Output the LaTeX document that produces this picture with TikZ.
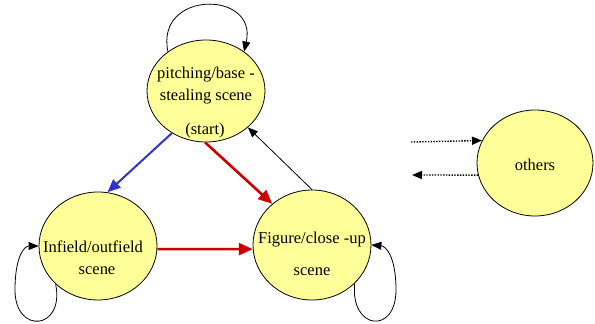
\documentclass[tikz,border=0pt]{standalone}
\usepackage{fontspec}
\setmainfont{Liberation Serif}
\usetikzlibrary{shapes.geometric,arrows.meta}
\definecolor{nodefill}{RGB}{255,255,153}
\definecolor{edgeblue}{RGB}{51,51,204}
\definecolor{edgered}{RGB}{204,0,0}
\tikzset{
  state/.style={ellipse,draw=black,fill=nodefill,line width=0.8pt,inner sep=0pt},
  lbl/.style={font=\rmfamily\fontsize{16.5}{19}\selectfont,inner sep=0pt,anchor=center},
  thinarrow/.style={line width=0.8pt,-{Triangle[length=10pt,width=8pt]}},
  bluearrow/.style={edgeblue,line width=2pt,-{Triangle[length=13pt,width=11pt]}},
  redarrow/.style={edgered,line width=2.6pt,-{Triangle[length=14pt,width=12pt]}},
  dotarrow/.style={line width=1.4pt,dash pattern=on 1.4pt off 1.4pt,-{Triangle[length=10pt,width=8pt]}}
}
\begin{document}
\begin{tikzpicture}[x=1pt,y=-1pt]
\useasboundingbox (0,0) rectangle (595,324);
% states
\node[state,minimum width=118pt,minimum height=102pt] (pitch) at (206,91) {};
\node[state,minimum width=118pt,minimum height=108pt] (infield) at (98,246) {};
\node[state,minimum width=118pt,minimum height=110pt] (figure) at (312,245) {};
\node[state,minimum width=116pt,minimum height=106pt] (others) at (535,163) {};
% labels
\node[lbl] (p1) at (206,75) {pitching/base -};
\node[lbl] (p2) at (206,97) {stealing scene};
\node[lbl] (p3) at (205,131) {(start)};
\node[lbl] (i1) at (93,247) {Infield/outfield};
\node[lbl] (i2) at (97,271) {scene};
\node[lbl] (f1) at (312,240) {Figure/close -up};
\node[lbl] (f2) at (312,272) {scene};
\node[lbl] (o1) at (535,165) {others};
% edges between states
\draw[bluearrow] (pitch.231) -- (infield.80);
\draw[redarrow] (pitch.269) -- (figure.134);
\draw[redarrow] (infield.-3) -- (figure.184);
\draw[thinarrow] (figure.90) -- (pitch.319);
% self loops
\draw[thinarrow] (pitch.134) .. controls (155,-10) and (258,-10) .. (pitch.46);
\draw[thinarrow] (infield.222) .. controls (65,330) and (15,335) .. (15,290)
  .. controls (15,255) and (25,246) .. (infield.180);
\draw[thinarrow] (figure.-42) .. controls (350,330) and (396,335) .. (396,290)
  .. controls (396,255) and (385,246) .. (figure.0);
% dotted connectors to/from others
\coordinate (dA) at (411,142);
\coordinate (dB) at (412,175);
\draw[dotarrow] (dA) -- (others.157);
\draw[dotarrow] (others.192) -- (dB);
\end{tikzpicture}
\end{document}
